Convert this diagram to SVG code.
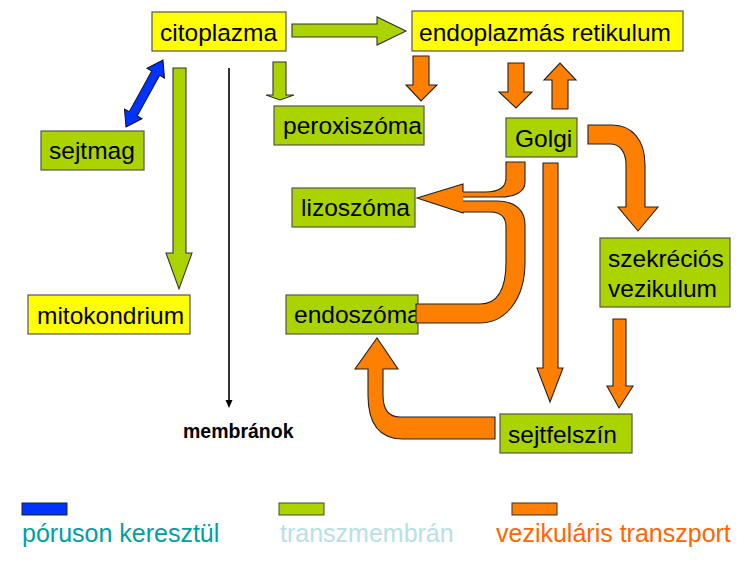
<svg xmlns="http://www.w3.org/2000/svg" width="752" height="566" viewBox="0 0 752 566">
<style>
.box{stroke:#555;stroke-width:1.2}
.y{fill:#FFFF00}
.g{fill:#AAD300}
.t{font-family:"Liberation Sans",Arial,sans-serif;font-size:24.5px;fill:#000}
.ga{fill:#AAD300;stroke:#333;stroke-width:1.1;stroke-linejoin:miter}
.oa{fill:#FF8000;stroke:#222;stroke-width:1.1;stroke-linejoin:miter}
.lg{font-family:"Liberation Sans",Arial,sans-serif;font-size:25px}
</style>
<rect width="752" height="566" fill="#fff"/>
<g id="citoplazma"><rect class="box y" x="152" y="12" width="134" height="39"/><text class="t" x="160" y="41">citoplazma</text></g>
<g id="er"><rect class="box y" x="412" y="11" width="271" height="40"/><text class="t" x="419" y="41">endoplazmás retikulum</text></g>
<g id="sejtmag"><rect class="box g" x="41" y="131" width="103" height="39"/><text class="t" x="49" y="159">sejtmag</text></g>
<g id="peroxiszoma"><rect class="box g" x="274" y="106" width="150" height="39"/><text class="t" x="283" y="134">peroxiszóma</text></g>
<g id="golgi"><rect class="box g" x="506" y="118" width="71" height="39"/><text class="t" x="515" y="147">Golgi</text></g>
<g id="lizoszoma"><rect class="box g" x="292" y="188" width="123" height="39"/><text class="t" x="301" y="216">lizoszóma</text></g>
<g id="endoszoma"><rect class="box g" x="286" y="295" width="132" height="39"/><text class="t" x="294" y="323">endoszóma</text></g>
<g id="szekrecios"><rect class="box g" x="600" y="238" width="130" height="69"/><text class="t" x="608" y="267">szekréciós</text><text class="t" x="608" y="297">vezikulum</text></g>
<g id="mitokondrium"><rect class="box y" x="28" y="295" width="162" height="39"/><text class="t" x="37" y="324">mitokondrium</text></g>
<g id="sejtfelszin"><rect class="box g" x="500" y="414" width="132" height="39"/><text class="t" x="508" y="443">sejtfelszín</text></g>
<g id="connectors">
  <path class="ga" d="M292,24 L377,24 L377,17 L406,31 L377,45 L377,37 L292,37 Z"/>
  <path class="ga" d="M273,62 L286,62 L286,95 L294,95 L280,100 L266,95 L273,95 Z"/>
  <path class="ga" d="M173,68 L186,68 L186,253 L192,253 L179,289 L166,253 L173,253 Z"/>
  <path fill="#0033FF" stroke="#111" stroke-width="1" transform="translate(126,127) rotate(-61.1)" d="M0,0 L15,-10 L15,-4.5 L61.5,-4.5 L61.5,-10 L76.5,0 L61.5,10 L61.5,4.5 L15,4.5 L15,10 Z"/>
  <line x1="229" y1="68" x2="229" y2="401" stroke="#000" stroke-width="1.6"/>
  <path d="M225.5,400 L232.5,400 L229,408 Z" fill="#000"/>
  <path class="oa" d="M413,56 L429,56 L429,85 L437,85 L421,101 L406,85 L413,85 Z"/>
  <path class="oa" d="M508,63 L524,63 L524,92 L532,92 L516,108 L499,92 L508,92 Z"/>
  <path class="oa" d="M552,109 L568,109 L568,80 L576,80 L560,63 L544,80 L552,80 Z"/>
  <path class="oa" d="M588,125 L612,125 C632,125 645,140 645,165 L645,207 L658,207 L638,231 L618,207 L626,207 L626,165 C626,152 620,144 610,144 L588,144 Z"/>
  <path class="oa" d="M543,163 L558,163 L558,368 L563,368 L550,402 L537,368 L543,368 Z"/>
  <path class="oa" d="M613,319 L626,319 L626,386 L633,386 L619,408 L607,386 L613,386 Z"/>
  <path class="oa" d="M495,417 L400,417 C388,417 383,408 383,395 L383,369 L398,369 L377,338 L355,369 L368,369 L368,395 C368,425 380,439 403,439 L495,439 Z"/>
  <path class="oa" d="M416,304 L480,304 C498,304 506,290 506,262 L506,227 C506,216 500,212 490,212 L461,212 L461,201 L497,201 C515,201 525,210 525,225 L525,262 C525,300 505,323 480,323 L416,323 Z"/>
  <path class="oa" d="M506,162 L525,162 L525,182 C525,192 515,197 500,197 L458,197 L458,192 L485,192 C498,192 506,188 506,178 Z"/>
  <path d="M463,184 L417,198 L463,213 Z" fill="#FF8000"/>
  <path d="M463,192 L463,184 L417,198 L463,213 L463,212" fill="none" stroke="#222" stroke-width="1.1"/>
</g>
<text x="183" y="438" font-family="Liberation Sans,Arial,sans-serif" font-weight="bold" font-size="19.5" fill="#000">membránok</text>
<g id="legend">
  <rect x="22" y="503" width="45" height="12" fill="#0033FF" stroke="#222" stroke-width="1"/>
  <rect x="279" y="503" width="45" height="12" fill="#AAD300" stroke="#444" stroke-width="1"/>
  <rect x="512" y="503" width="45" height="12" fill="#FF8000" stroke="#333" stroke-width="1"/>
  <text class="lg" x="22" y="542" fill="#00A0A0">póruson keresztül</text>
  <text class="lg" x="280" y="542" fill="#B8E0E6">transzmembrán</text>
  <text class="lg" x="496" y="542" fill="#FF6600">vezikuláris transzport</text>
</g>
</svg>
